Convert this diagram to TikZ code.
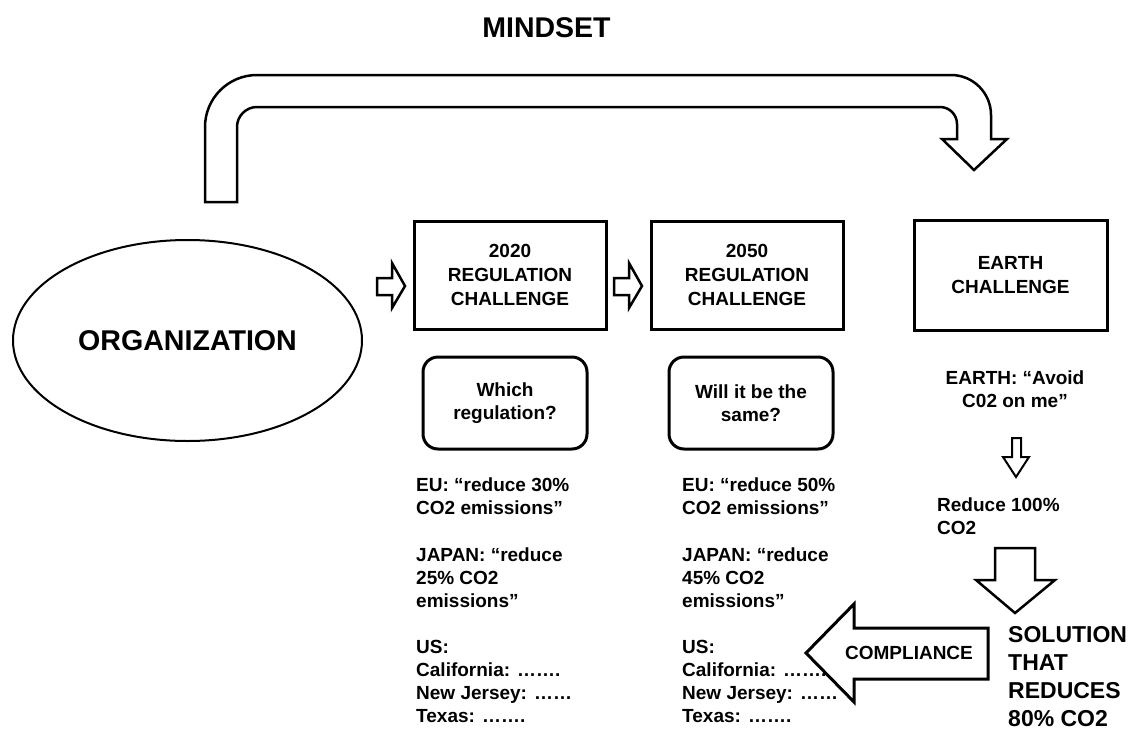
\documentclass[tikz,border=0pt]{standalone}
\usepackage{fontspec}
\setmainfont{Liberation Sans}
\usetikzlibrary{shapes.geometric}
\begin{document}
\begin{tikzpicture}[x=1pt,y=-1pt,
  title/.style={font=\fontsize{28.5}{32}\selectfont\bfseries},
  stagebox/.style={draw, line width=3pt, minimum width=192pt, minimum height=108pt,
    inner sep=0pt, align=center, font=\fontsize{19}{24}\selectfont\bfseries},
  question/.style={draw, rounded corners=15pt, line width=3pt, minimum width=164pt,
    minimum height=92pt, inner sep=0pt, align=center, font=\fontsize{19}{23}\selectfont\bfseries},
  plaintext/.style={align=left, inner sep=0pt, font=\fontsize{19}{23}\selectfont\bfseries},
  bigtext/.style={align=left, inner sep=0pt, font=\fontsize{23}{28}\selectfont\bfseries},
  blockarrow/.style={draw, line width=2.5pt, line join=miter, fill=white}]

\useasboundingbox[fill=white] (0,0) rectangle (1129,728);

% title
\node[title] (mindset) at (546.5,28) {MINDSET};

% curved mindset arrow from the organization to the earth challenge
\path[blockarrow]
  (205,202) -- (205,127)
  .. controls (205,98.3) and (228.3,75) .. (257,75)
  -- (951,75)
  .. controls (973.1,75) and (991,92.9) .. (991,115)
  -- (991,139) -- (1007,139) -- (974,170) -- (942,139) -- (957,139)
  -- (957,124)
  .. controls (957,114.6) and (949.4,107) .. (940,107)
  -- (257,107)
  .. controls (246,107) and (237,116) .. (237,127)
  -- (237,202) -- cycle;

% organization
\node[draw, ellipse, line width=2pt, minimum width=349pt, minimum height=201pt,
  inner sep=0pt, font=\fontsize{28.6}{32}\selectfont\bfseries] (org) at (187.5,340.5) {ORGANIZATION};

% stages
\node[stagebox] (r2020) at (510,275) {2020\\REGULATION\\CHALLENGE};
\node[stagebox] (r2050) at (747,275) {2050\\REGULATION\\CHALLENGE};
\node[stagebox, minimum width=193pt, minimum height=110pt] (earth) at (1010.5,275) {EARTH\\CHALLENGE};

% small arrows between stages
\path[blockarrow] (377,278) -- (392,278) -- (392,263) -- (405,286) -- (392,308) -- (392,295) -- (377,295) -- cycle;
\path[blockarrow] (614,278) -- (629,278) -- (629,263) -- (642,286) -- (629,308) -- (629,295) -- (614,295) -- cycle;

% questions
\node[question] (q2020) at (505,403) {Which\\regulation?};
\node[question] (q2050) at (751,403) {Will it be the\\same?};

% regulation texts, 2020
\node[plaintext, anchor=west] (eu20) at (416,496) {EU: “reduce 30\%\\CO2 emissions”};
\node[plaintext, anchor=west] (jp20) at (416,578) {JAPAN: “reduce\\25\% CO2\\emissions”};
\node[plaintext, anchor=west] (us20) at (416,681) {US:\\California: …….\\New Jersey: ……\\Texas: …….};

% regulation texts, 2050
\node[plaintext, anchor=west] (eu50) at (682,496) {EU: “reduce 50\%\\CO2 emissions”};
\node[plaintext, anchor=west] (jp50) at (682,578) {JAPAN: “reduce\\45\% CO2\\emissions”};
\node[plaintext, anchor=west] (us50) at (682,681) {US:\\California: …….\\New Jersey: ……\\Texas: …….};

% earth side
\node[plaintext, align=center] (avoid) at (1015,389) {EARTH: “Avoid\\C02 on me”};
\path[blockarrow, line width=2pt] (1012,438) -- (1021,438) -- (1021,457) -- (1029,457) -- (1016,477)
  -- (1003,457) -- (1012,457) -- cycle;
\node[plaintext, anchor=west] (reduce) at (937,516) {Reduce 100\%\\CO2};
\path[blockarrow] (995,548) -- (1035,548) -- (1035,580) -- (1055,580) -- (1015,613)
  -- (976,580) -- (995,580) -- cycle;

% solution
\node[bigtext, anchor=north west] (solution) at (1008,626) {SOLUTION\\THAT\\REDUCES\\80\% CO2};

% compliance arrow
\path[blockarrow, line width=3pt] (988,628) -- (854,628) -- (854,604) -- (806,653) -- (854,702)
  -- (854,679) -- (988,679) -- cycle;
\node[font=\fontsize{19}{23}\selectfont\bfseries] (compliance) at (909,653) {COMPLIANCE};

\end{tikzpicture}
\end{document}
